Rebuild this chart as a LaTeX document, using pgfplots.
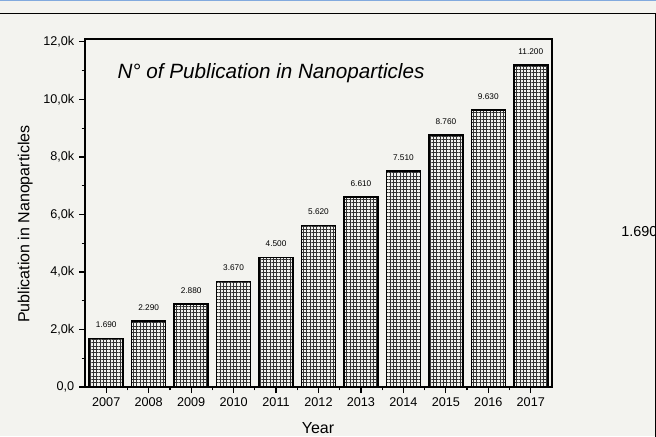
\documentclass[border=0pt]{standalone}
\usepackage{fontspec}
\setmainfont{Liberation Sans}
\usepackage{pgfplots}
\pgfplotsset{compat=1.18}
\usetikzlibrary{patterns.meta}

\definecolor{bgcol}{RGB}{243,243,239}
\definecolor{topblue}{RGB}{130,170,222}

\begin{document}
\begin{tikzpicture}
\useasboundingbox (0,0) rectangle (492pt,327pt);
\begin{scope}[x=0.75pt,y=0.75pt]
\fill[bgcol] (0,0) rectangle (656,436);
\draw[topblue, line width=1.5pt] (0,436) -- (656,436);
\draw[black, line width=0.6pt] (0,423) -- (655,423) -- (655,-2);
\node[font=\fontsize{15.5}{18}\selectfont\itshape] at (271,363) {N° of Publication in Nanoparticles};
\begin{scope}
\clip (0,0) rectangle (655,436);
\node[anchor=west, inner sep=0pt, font=\fontsize{10.8}{13}\selectfont] at (621,204) {1.690};
\end{scope}
\end{scope}

% publications per year
\begin{axis}[
    at={(63.75pt,36.75pt)}, anchor=south west,
    scale only axis,
    width=350.25pt, height=261pt,
    xmin=2006.5, xmax=2017.5,
    ymin=0, ymax=12100,
    scaled y ticks=false,
    scaled x ticks=false,
    axis line style={line width=0.9pt},
    xtick={2007,2008,2009,2010,2011,2012,2013,2014,2015,2016,2017},
    xticklabels={2007,2008,2009,2010,2011,2012,2013,2014,2015,2016,2017},
    ytick={0,2000,4000,6000,8000,10000,12000},
    yticklabels={{0,0},{2,0k},{4,0k},{6,0k},{8,0k},{10,0k},{12,0k}},
    minor x tick num=1,
    minor y tick num=1,
    tick pos=left,
    tick align=outside,
    major tick length=4.5pt,
    minor tick length=2.5pt,
    every tick/.style={black, line width=0.9pt},
    tick label style={font=\fontsize{9.5}{11}\selectfont},
    xlabel={Year},
    ylabel={Publication in Nanoparticles},
    every axis x label/.style={at={(axis description cs:0.499,-0.118)}, anchor=center, font=\fontsize{12}{14}\selectfont},
    every axis y label/.style={at={(axis description cs:-0.128,0.468)}, anchor=center, rotate=90, font=\fontsize{12}{14}\selectfont},
    nodes near coords,
    point meta=explicit symbolic,
    every node near coord/.append style={font=\fontsize{6.2}{7}\selectfont, anchor=south, inner sep=0pt, yshift=7.5pt},
]
\addplot[
    ybar,
    bar width=25.5pt,
    draw=black,
    line width=1.1pt,
    pattern={Hatch[angle=0, distance=2.5pt, line width=0.4pt]},
    pattern color=black!80,
] coordinates {
    (2007,1690) [1.690]
    (2008,2290) [2.290]
    (2009,2880) [2.880]
    (2010,3670) [3.670]
    (2011,4500) [4.500]
    (2012,5620) [5.620]
    (2013,6610) [6.610]
    (2014,7510) [7.510]
    (2015,8760) [8.760]
    (2016,9630) [9.630]
    (2017,11200) [11.200]
};
\end{axis}
\end{tikzpicture}
\end{document}
